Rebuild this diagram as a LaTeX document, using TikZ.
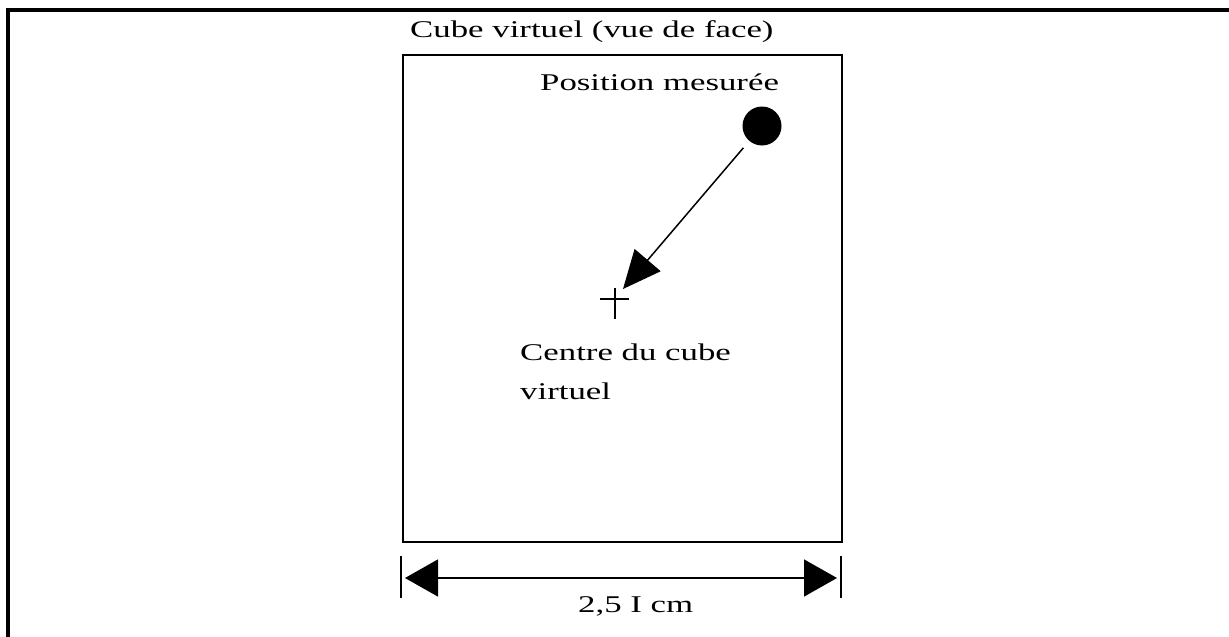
\documentclass[tikz,border=0pt]{standalone}
\usepackage{fontspec}
\setmainfont{Liberation Serif}[FakeStretch=1.45]
\usetikzlibrary{arrows.meta}
\tikzset{
  lbl/.style={inner sep=0pt, anchor=base west, font=\fontsize{24}{39}\selectfont, align=left},
  frameline/.style={line width=4pt},
  cubebox/.style={line width=2.5pt},
  dimline/.style={line width=1.5pt},
}
\begin{document}
\begin{tikzpicture}[x=1pt,y=-1pt]
\useasboundingbox (0,0) rectangle (1229,637);
% outer frame (top and left)
\draw[frameline] (1229,10) -- (8,10) -- (8,637);
% cube front view
\node[cubebox, draw, minimum width=439pt, minimum height=487pt, inner sep=0pt] (cube) at (622.5,298.5) {};
\node[lbl] (title) at (410,37) {Cube virtuel (vue de face)};
\node[lbl] (poslbl) at (540,90) {Position mesurée};
\node[circle, fill=black, minimum size=39pt, inner sep=0pt] (meas) at (762,126) {};
% centre cross
\coordinate (ctr) at (615,301);
\draw[line width=2pt] (600,299) -- (629,299);
\draw[line width=2pt] (615,288) -- (615,319);
\coordinate (tip) at (623,289);
\draw[line width=1.5pt, -{Triangle[length=38pt,width=34pt]}, shorten <=9pt] (meas) -- (tip);
\node[lbl] (ctrlbl) at (520,399) {Centre du cube\\virtuel};
% dimension
\coordinate (dl) at (401,578);
\coordinate (dr) at (841,578);
\draw[dimline] (401,556) -- (401,598);
\draw[dimline] (841,556) -- (841,598);
\draw[dimline, {Triangle[length=33pt,width=37pt]}-{Triangle[length=33pt,width=37pt]}, shorten <=4pt, shorten >=4pt] (dl) -- (dr);
\node[lbl] (dimlbl) at (578,612) {2,5 I cm};
\end{tikzpicture}
\end{document}
